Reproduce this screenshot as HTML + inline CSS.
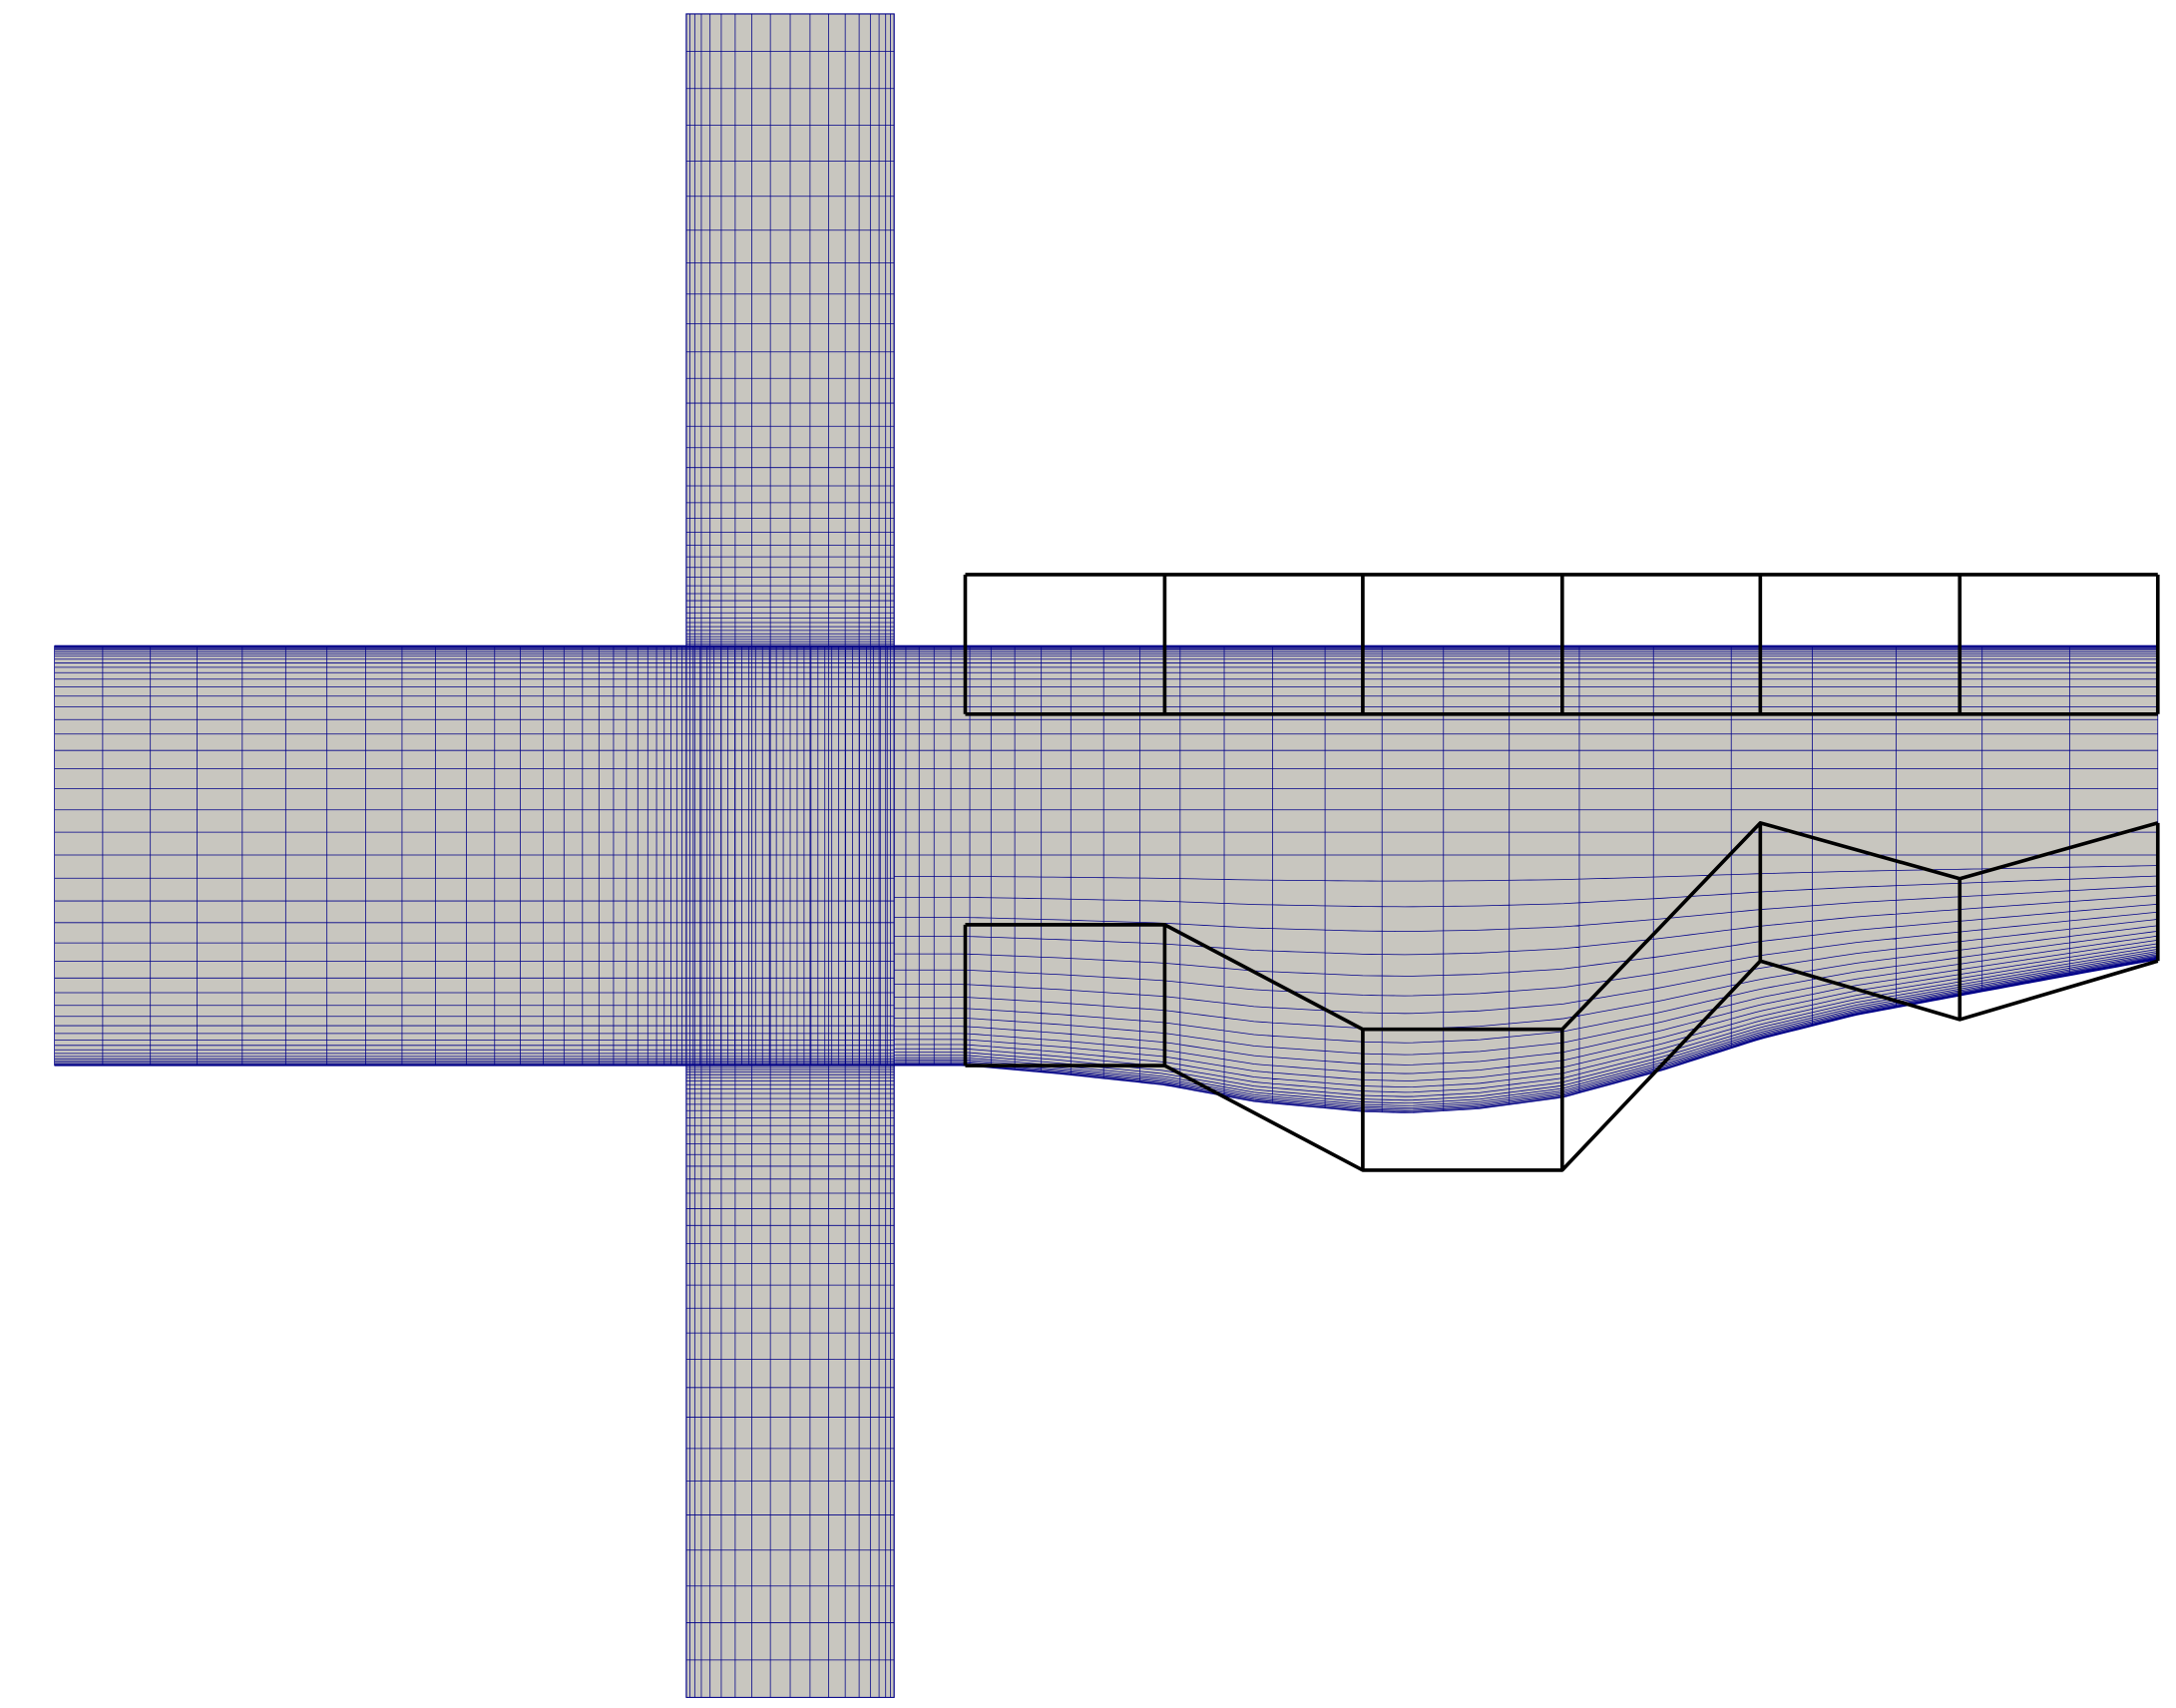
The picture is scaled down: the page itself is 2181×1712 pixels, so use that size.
<!DOCTYPE html>
<html><head><meta charset="utf-8"><style>html,body{margin:0;padding:0;background:#fff}svg{display:block}</style></head>
<body>
<svg id="fig" width="2181" height="1712" viewBox="0 0 1560 1224.6" xmlns="http://www.w3.org/2000/svg">
<g id="mesh"></g>
<g id="boxes"></g>
</svg>
<script>
// geometry data (figure units)
const boxColsX = [692, 835, 977, 1120, 1262, 1405, 1547];
const upperBoxTop = [412, 412, 412, 412, 412, 412, 412];
const upperBoxBot = [512, 512, 512, 512, 512, 512, 512];
const lowerBoxTop = [663, 663, 738, 738, 590, 630, 590];
const lowerBoxBot = [764, 764, 839, 839, 689, 731, 689];
const curveX = [640, 692, 760, 835, 900, 977, 1010, 1060, 1120, 1190, 1262, 1330, 1405, 1470, 1547];
const curveY = [764, 764, 770, 778, 790, 797, 798, 795, 787, 768, 745, 728, 714, 702, 688];

const NS = 'http://www.w3.org/2000/svg';
const mesh = document.getElementById('mesh');
const boxes = document.getElementById('boxes');
const BLUE = '#000088';
function el(tag, attrs, parent) {
  const e = document.createElementNS(NS, tag);
  for (const k in attrs) e.setAttribute(k, attrs[k]);
  parent.appendChild(e);
  return e;
}
function curve(x) {
  for (let i = 0; i < curveX.length - 1; i++) {
    if (x <= curveX[i + 1]) {
      const t = (x - curveX[i]) / (curveX[i + 1] - curveX[i]);
      return curveY[i] + t * (curveY[i + 1] - curveY[i]);
    }
  }
  return curveY[curveY.length - 1];
}
function clus(t, k) { return 1 - Math.tanh(k * (1 - t)) / Math.tanh(k); }
function sym(t, k) { return 0.5 * (1 + Math.tanh(k * (2 * t - 1)) / Math.tanh(k)); }

const bg = '#c8c6bf';
let r = el('rect', {x: 39, y: 463, width: 1508, height: 150, fill: bg}, mesh);


r = el('rect', {x: 39, y: 612, width: 602, height: 152, fill: bg}, mesh);


r = el('rect', {x: 492, y: 10, width: 149, height: 1207, fill: bg}, mesh);


let pts = '640,612 1547,612';
for (let x = 1547; x >= 640; x -= 5) pts += ' ' + x + ',' + curve(x).toFixed(1);
r = el('polygon', {points: pts, fill: bg}, mesh);



let d = '';
for (let i = 0; i <= 24; i++) { const y = 463 + 150 * clus(i / 24, 2.6); d += `M39 ${y.toFixed(2)}H1547`; }
for (let i = 0; i <= 22; i++) { const y = 764 - 151 * clus(i / 22, 2.4); d += `M39 ${y.toFixed(2)}H641`; }
for (let i = 0; i <= 24; i++) {
  const f = clus(i / 24, 2.4);
  let s = '';
  for (let x = 641; x <= 1547; x += 6) { const yb = curve(x); const y = yb - (yb - 613) * f; s += (s ? 'L' : 'M') + x + ' ' + y.toFixed(2); }
  d += s;
}
for (let i = 0; i <= 26; i++) { const x = 492 - 453 * clus(i / 26, 1.9); d += `M${x.toFixed(2)} 463V764`; }
for (let i = 1; i <= 26; i++) {
  const x = 641 + 906 * clus(i / 26, 1.7);
  d += `M${x.toFixed(2)} 463V613`;
  d += `M${x.toFixed(2)} 613L${x.toFixed(2)} ${curve(x).toFixed(2)}`;
}
for (let i = 0; i <= 18; i++) { const x = 492 + 149 * sym(i / 18, 1.6); d += `M${x.toFixed(2)} 10V1217`; }
for (let i = 0; i <= 38; i++) { const y = 463 - 453 * clus(i / 38, 2.2); d += `M492 ${y.toFixed(2)}H641`; }
for (let i = 0; i <= 38; i++) { const y = 764 + 453 * clus(i / 38, 2.2); d += `M492 ${y.toFixed(2)}H641`; }
for (let i = 0; i <= 30; i++) { const x = 492 + 149 * i / 30; d += `M${x.toFixed(2)} 463V764`; }
r = el('path', {d: d, stroke: BLUE, 'stroke-width': 0.55, fill: 'none'}, mesh);


r = el('path', {d: 'M39 463H1547M39 764H641M492 10H641V1217H492Z', stroke: BLUE, 'stroke-width': 0.8, fill: 'none'}, mesh);



const n = boxColsX.length;
function poly(top, bot) {
  let s = 'M' + boxColsX[0] + ' ' + top[0];
  for (let i = 1; i < n; i++) s += 'L' + boxColsX[i] + ' ' + top[i];
  s += 'M' + boxColsX[0] + ' ' + bot[0];
  for (let i = 1; i < n; i++) s += 'L' + boxColsX[i] + ' ' + bot[i];
  for (let i = 0; i < n; i++) s += 'M' + boxColsX[i] + ' ' + top[i] + 'L' + boxColsX[i] + ' ' + bot[i];
  return s;
}
r = el('path', {d: poly(upperBoxTop, upperBoxBot), stroke: '#000', 'stroke-width': 2.6, fill: 'none', 'stroke-linejoin': 'round'}, boxes);


r = el('path', {d: poly(lowerBoxTop, lowerBoxBot), stroke: '#000', 'stroke-width': 2.6, fill: 'none', 'stroke-linejoin': 'round'}, boxes);


</script>
</body></html>
